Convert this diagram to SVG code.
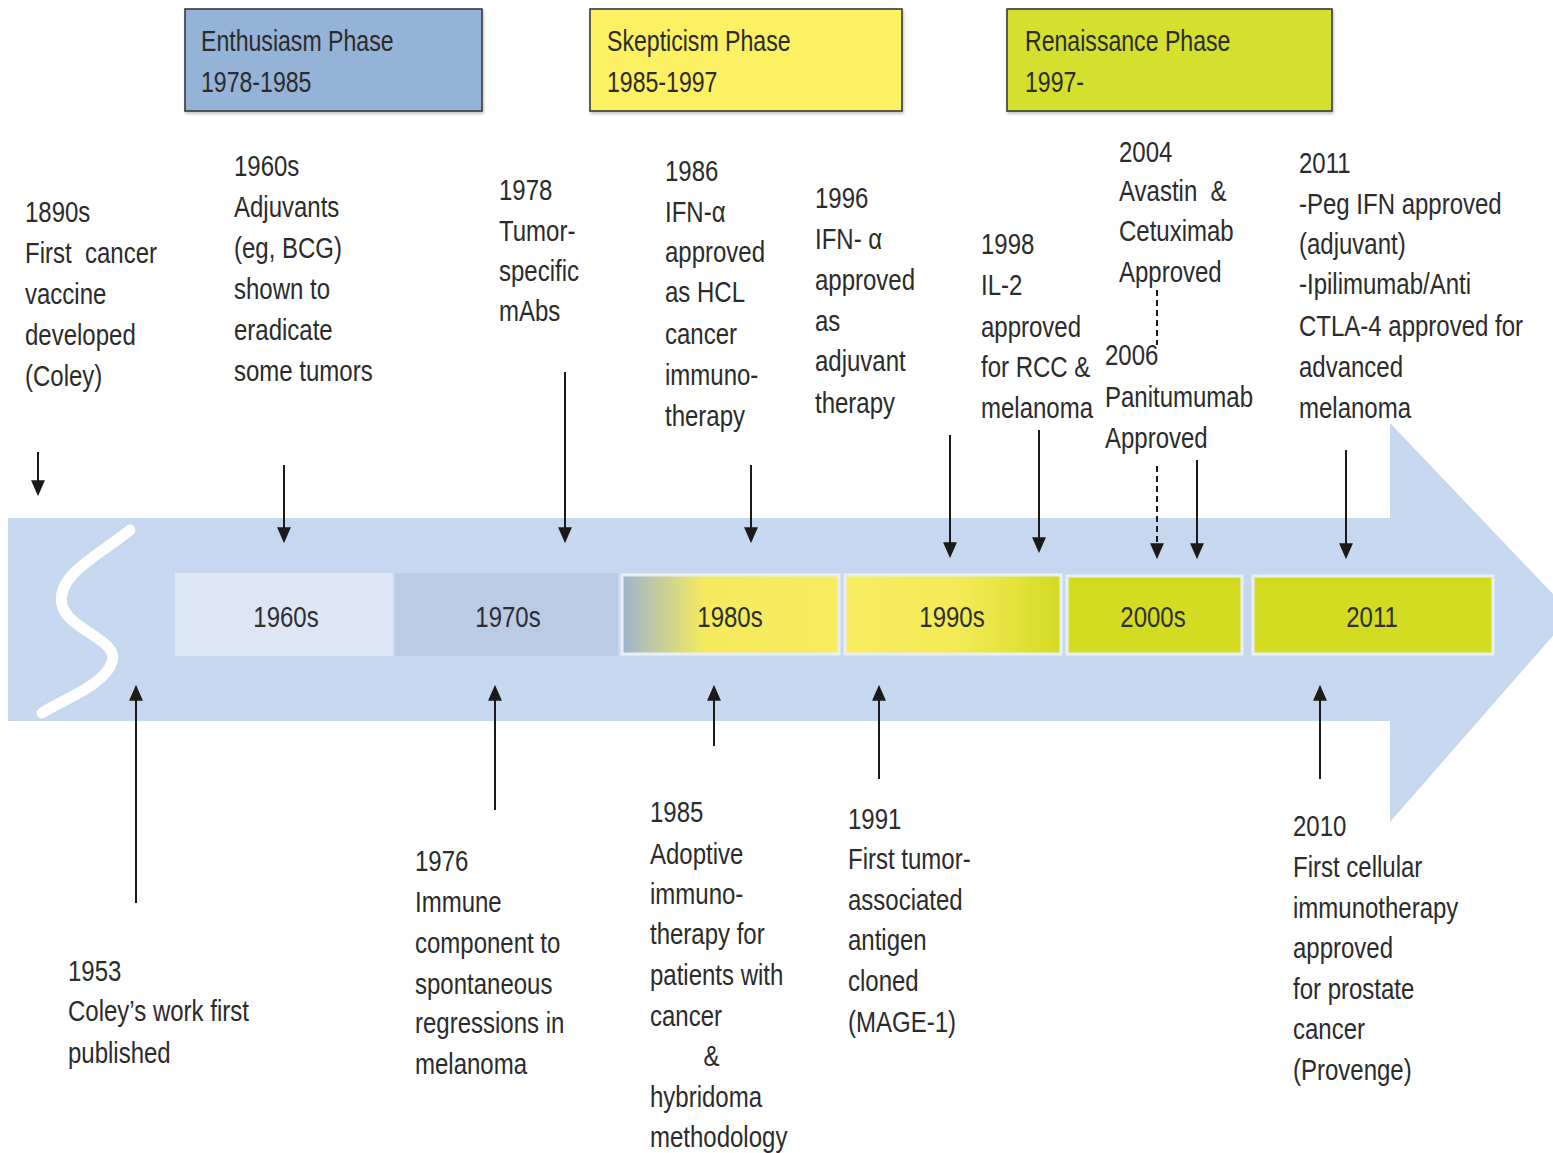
<svg xmlns="http://www.w3.org/2000/svg" width="1553" height="1153" viewBox="0 0 1553 1153">
<style>
.t{font-family:"Liberation Sans",Arial,sans-serif;font-size:30px;fill:#2b2b2b;white-space:pre}
.seg{font-family:"Liberation Sans",Arial,sans-serif;font-size:30px;fill:#2e2e36;text-anchor:middle}
.ph{stroke:#3a3a3a;stroke-width:1.6}
.c{stroke:#1a1a1a;stroke-width:2;fill:none;marker-end:url(#ah)}
.d{stroke-dasharray:6 4}
</style>
<defs>
<marker id="ah" markerUnits="userSpaceOnUse" markerWidth="16" markerHeight="16" viewBox="0 0 15 13" refX="12" refY="6.5" orient="auto">
<path d="M0,0 L15,6.5 L0,13 z" fill="#1a1a1a"/>
</marker>
<linearGradient id="g80" x1="0" x2="1" y1="0" y2="0">
<stop offset="0" stop-color="#9db4cf"/>
<stop offset="0.38" stop-color="#f4ea5e"/>
<stop offset="1" stop-color="#f8ed5f"/>
</linearGradient>
<linearGradient id="g90" x1="0" x2="1" y1="0" y2="0">
<stop offset="0" stop-color="#f8ee62"/>
<stop offset="0.55" stop-color="#f2ea55"/>
<stop offset="1" stop-color="#d3db24"/>
</linearGradient>
<filter id="sh" x="-5%" y="-5%" width="110%" height="120%">
<feDropShadow dx="1" dy="2" stdDeviation="1.5" flood-color="#000" flood-opacity="0.25"/>
</filter>
</defs>
<rect width="1553" height="1153" fill="#ffffff"/>

<g id="timeline-arrow">
<polygon points="8,518 1390,518 1390,423 1572,614 1390,822 1390,721 8,721" fill="#c6d8ef"/>
<path d="M130,530 C100,555 55,575 62,605 C68,630 120,640 112,662 C105,685 62,700 42,713" stroke="#ffffff" stroke-width="11" fill="none" stroke-linecap="round"/>
</g>

<g id="seg-1960s"><rect x="175" y="573" width="218" height="83" fill="#dde6f2"/><text class="seg" transform="translate(286,627) scale(0.8,1)">1960s</text></g>
<g id="seg-1970s"><rect x="395" y="573" width="223" height="83" fill="#b9cce3"/><text class="seg" transform="translate(508,627) scale(0.8,1)">1970s</text></g>
<g id="seg-1980s"><rect x="622" y="575" width="217" height="79" fill="url(#g80)" stroke="#e9eff8" stroke-width="3"/><text class="seg" transform="translate(730,627) scale(0.8,1)">1980s</text></g>
<g id="seg-1990s"><rect x="845" y="575" width="216" height="79" fill="url(#g90)" stroke="#e9eff8" stroke-width="3"/><text class="seg" transform="translate(952,627) scale(0.8,1)">1990s</text></g>
<g id="seg-2000s"><rect x="1067" y="576" width="175" height="78" fill="#d4dc22" stroke="#e9eff8" stroke-width="3"/><text class="seg" transform="translate(1153,627) scale(0.8,1)">2000s</text></g>
<g id="seg-2011"><rect x="1253" y="576" width="240" height="78" fill="#d4dc22" stroke="#e9eff8" stroke-width="3"/><text class="seg" transform="translate(1372,627) scale(0.8,1)">2011</text></g>

<g id="phase-enthusiasm"><rect class="ph" x="185" y="9" width="297" height="102" fill="#95b3d7" filter="url(#sh)"/><text class="t" transform="translate(201,51) scale(0.77,1)"><tspan x="0" y="0">Enthusiasm Phase</tspan><tspan x="0" y="41">1978-1985</tspan></text></g>
<g id="phase-skepticism"><rect class="ph" x="590" y="9" width="312" height="102" fill="#fcf064" filter="url(#sh)"/><text class="t" transform="translate(607,51) scale(0.77,1)"><tspan x="0" y="0">Skepticism Phase</tspan><tspan x="0" y="41">1985-1997</tspan></text></g>
<g id="phase-renaissance"><rect class="ph" x="1007" y="9" width="325" height="102" fill="#d5df2e" filter="url(#sh)"/><text class="t" transform="translate(1025,51) scale(0.77,1)"><tspan x="0" y="0">Renaissance Phase</tspan><tspan x="0" y="41">1997-</tspan></text></g>

<g id="ev-1890s"><text class="t" transform="translate(25,222) scale(0.8,1)"><tspan x="0" y="0">1890s</tspan><tspan x="0" y="41">First  cancer</tspan><tspan x="0" y="82">vaccine</tspan><tspan x="0" y="123">developed</tspan><tspan x="0" y="164">(Coley)</tspan></text></g>
<g id="ev-1960s"><text class="t" transform="translate(234,176) scale(0.8,1)"><tspan x="0" y="0">1960s</tspan><tspan x="0" y="41">Adjuvants</tspan><tspan x="0" y="82">(eg, BCG)</tspan><tspan x="0" y="123">shown to</tspan><tspan x="0" y="164">eradicate</tspan><tspan x="0" y="205">some tumors</tspan></text></g>
<g id="ev-1978"><text class="t" transform="translate(499,200) scale(0.8,1)"><tspan x="0" y="0">1978</tspan><tspan x="0" y="41">Tumor-</tspan><tspan x="0" y="81">specific</tspan><tspan x="0" y="121">mAbs</tspan></text></g>
<g id="ev-1986"><text class="t" transform="translate(665,181) scale(0.8,1)"><tspan x="0" y="0">1986</tspan><tspan x="0" y="41">IFN-α</tspan><tspan x="0" y="81">approved</tspan><tspan x="0" y="121">as HCL</tspan><tspan x="0" y="163">cancer</tspan><tspan x="0" y="204">immuno-</tspan><tspan x="0" y="245">therapy</tspan></text></g>
<g id="ev-1996"><text class="t" transform="translate(815,208) scale(0.8,1)"><tspan x="0" y="0">1996</tspan><tspan x="0" y="41">IFN- α</tspan><tspan x="0" y="82">approved</tspan><tspan x="0" y="123">as</tspan><tspan x="0" y="163">adjuvant</tspan><tspan x="0" y="205">therapy</tspan></text></g>
<g id="ev-1998"><text class="t" transform="translate(981,254) scale(0.8,1)"><tspan x="0" y="0">1998</tspan><tspan x="0" y="41">IL-2</tspan><tspan x="0" y="83">approved</tspan><tspan x="0" y="123">for RCC &amp;</tspan><tspan x="0" y="164">melanoma</tspan></text></g>
<g id="ev-2004"><text class="t" transform="translate(1119,162) scale(0.8,1)"><tspan x="0" y="0">2004</tspan><tspan x="0" y="39">Avastin  &amp;</tspan><tspan x="0" y="79">Cetuximab</tspan><tspan x="0" y="120">Approved</tspan></text></g>
<g id="ev-2006"><text class="t" transform="translate(1105,365) scale(0.8,1)"><tspan x="0" y="0">2006</tspan><tspan x="0" y="42">Panitumumab</tspan><tspan x="0" y="83">Approved</tspan></text></g>
<g id="ev-2011"><text class="t" transform="translate(1299,173) scale(0.8,1)"><tspan x="0" y="0">2011</tspan><tspan x="0" y="41">-Peg IFN approved</tspan><tspan x="0" y="81">(adjuvant)</tspan><tspan x="0" y="121">-Ipilimumab/Anti</tspan><tspan x="0" y="163">CTLA-4 approved for</tspan><tspan x="0" y="204">advanced</tspan><tspan x="0" y="245">melanoma</tspan></text></g>

<g id="ev-1953"><text class="t" transform="translate(68,981) scale(0.8,1)"><tspan x="0" y="0">1953</tspan><tspan x="0" y="40">Coley’s work first</tspan><tspan x="0" y="82">published</tspan></text></g>
<g id="ev-1976"><text class="t" transform="translate(415,871) scale(0.8,1)"><tspan x="0" y="0">1976</tspan><tspan x="0" y="41">Immune</tspan><tspan x="0" y="82">component to</tspan><tspan x="0" y="123">spontaneous</tspan><tspan x="0" y="162">regressions in</tspan><tspan x="0" y="203">melanoma</tspan></text></g>
<g id="ev-1985"><text class="t" transform="translate(650,822) scale(0.8,1)"><tspan x="0" y="0">1985</tspan><tspan x="0" y="42">Adoptive</tspan><tspan x="0" y="82">immuno-</tspan><tspan x="0" y="122">therapy for</tspan><tspan x="0" y="163">patients with</tspan><tspan x="0" y="204">cancer</tspan><tspan x="67" y="244">&amp;</tspan><tspan x="0" y="285">hybridoma</tspan><tspan x="0" y="325">methodology</tspan></text></g>
<g id="ev-1991"><text class="t" transform="translate(848,829) scale(0.8,1)"><tspan x="0" y="0">1991</tspan><tspan x="0" y="40">First tumor-</tspan><tspan x="0" y="81">associated</tspan><tspan x="0" y="121">antigen</tspan><tspan x="0" y="162">cloned</tspan><tspan x="0" y="203">(MAGE-1)</tspan></text></g>
<g id="ev-2010"><text class="t" transform="translate(1293,836) scale(0.8,1)"><tspan x="0" y="0">2010</tspan><tspan x="0" y="41">First cellular</tspan><tspan x="0" y="82">immunotherapy</tspan><tspan x="0" y="122">approved</tspan><tspan x="0" y="163">for prostate</tspan><tspan x="0" y="203">cancer</tspan><tspan x="0" y="244">(Provenge)</tspan></text></g>

<g id="connectors">
<path class="c" d="M38,452 V493"/>
<path class="c" d="M284,465 V540"/>
<path class="c" d="M565,372 V540"/>
<path class="c" d="M751,465 V540"/>
<path class="c" d="M950,435 V555"/>
<path class="c" d="M1039,430 V550"/>
<path class="c d" d="M1157,290 V345 M1157,466 V556"/>
<path class="c" d="M1197,460 V556"/>
<path class="c" d="M1346,450 V556"/>
<path class="c" d="M136,903 V688"/>
<path class="c" d="M495,810 V688"/>
<path class="c" d="M714,746 V688"/>
<path class="c" d="M879,779 V688"/>
<path class="c" d="M1320,779 V688"/>
</g>
</svg>
